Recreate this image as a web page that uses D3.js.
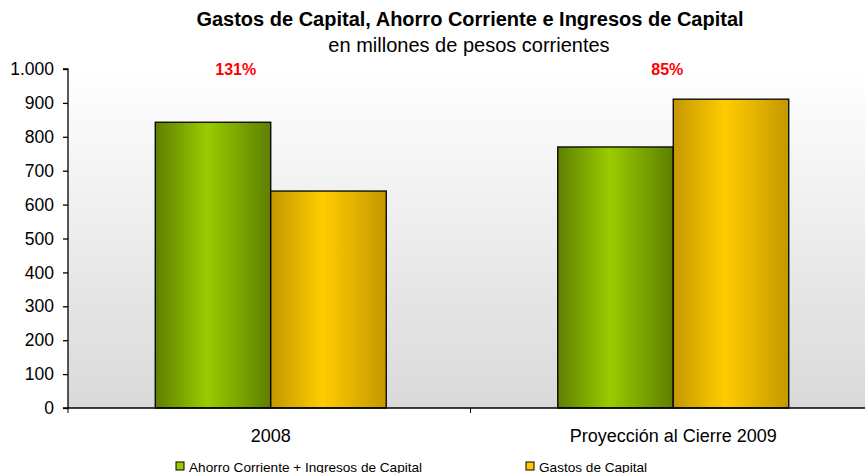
<!DOCTYPE html>
<html lang="es">
<head>
<meta charset="UTF-8">
<title>Gastos de Capital</title>
<style>
  body { margin: 0; background: #fff; font-family: 'Liberation Sans', Arial, sans-serif; }
  svg { display: block; }
</style>
<script src="https://d3js.org/d3.v7.min.js"></script>
</head>
<body>
<svg id="chart" width="865" height="473"></svg>
<script>
// data
var categories = ['2008', 'Proyección al Cierre 2009'];
var seriesNames = ['Ahorro Corriente + Ingresos de Capital', 'Gastos de Capital'];
var ahorroIngresos = [843, 770];
var gastosCapital = [640, 911];
var ratioLabels = ['131%', '85%'];
var yTicks = [0, 100, 200, 300, 400, 500, 600, 700, 800, 900, 1000];

var svg = d3.select('#chart');
var W = 865, H = 473;
var plotL = 68, plotR = 872, plotT = 69, plotB = 408;

var defs = svg.append('defs');
var bg = defs.append('linearGradient').attr('id', 'bg')
    .attr('x1', 0).attr('y1', 0).attr('x2', 0).attr('y2', 1);
bg.append('stop').attr('offset', '0%').attr('stop-color', '#ffffff');
bg.append('stop').attr('offset', '100%').attr('stop-color', '#d9d9d9');

function barGrad(id, dark, light) {
    var g = defs.append('linearGradient').attr('id', id)
        .attr('x1', 0).attr('y1', 0).attr('x2', 1).attr('y2', 0);
    g.append('stop').attr('offset', '0%').attr('stop-color', dark);
    g.append('stop').attr('offset', '45%').attr('stop-color', light);
    g.append('stop').attr('offset', '100%').attr('stop-color', dark);
}
barGrad('gGreen', '#5e7f00', '#99cc00');
barGrad('gYellow', '#c49800', '#ffcc00');
var fills = ['url(#gGreen)', 'url(#gYellow)'];
var legendFill = ['#99cc00', '#ffcc00'];

var x = d3.scaleBand().domain(categories).range([plotL + 1.5, plotR + 2.5]);
var xs = d3.scaleBand().domain([0, 1]).range([0, 231]);
var y = d3.scaleLinear().domain([0, 1000]).range([plotB, plotT]);

// plot background
svg.append('rect').attr('x', plotL).attr('y', plotT)
    .attr('width', W - plotL).attr('height', plotB - plotT)
    .attr('fill', 'url(#bg)');

// title
svg.append('text').attr('x', 470).attr('y', 26).attr('text-anchor', 'middle')
    .attr('font-size', 20).attr('font-weight', 'bold').text('Gastos de Capital, Ahorro Corriente e Ingresos de Capital');
svg.append('text').attr('x', 469).attr('y', 52).attr('text-anchor', 'middle')
    .attr('font-size', 20).text('en millones de pesos corrientes');

// bars
var rows = categories.map(function (c, i) {
    return { cat: c, vals: [ahorroIngresos[i], gastosCapital[i]] };
});
var groups = svg.selectAll('g.grp').data(rows).enter().append('g')
    .attr('transform', function (d) { return 'translate(' + (x(d.cat) + (x.bandwidth() - 231) / 2) + ',0)'; });
groups.selectAll('rect').data(function (d) { return d.vals; }).enter().append('rect')
    .attr('x', function (d, i) { return xs(i); })
    .attr('y', function (d) { return y(d); })
    .attr('width', xs.bandwidth())
    .attr('height', function (d) { return plotB - y(d); })
    .attr('fill', function (d, i) { return fills[i]; })
    .attr('stroke', '#000').attr('stroke-width', 1.3);

// y axis
var yAxis = svg.append('g').attr('transform', 'translate(' + plotL + ',0)')
    .call(d3.axisLeft(y).tickValues(yTicks).tickSize(5).tickPadding(9)
        .tickFormat(function (d) { return d3.format(',')(d).replace(',', '.'); }));
yAxis.selectAll('text').attr('font-size', 17.5).attr('fill', '#000')
    .attr('font-family', "'Liberation Sans', Arial, sans-serif");
yAxis.selectAll('line, path').attr('stroke', '#000').attr('stroke-width', 1.3);
yAxis.select('.domain').attr('d', 'M-5,' + plotT + 'H0V' + plotB + 'H-5');

// x axis
svg.append('line').attr('x1', plotL).attr('x2', W).attr('y1', plotB).attr('y2', plotB)
    .attr('stroke', '#000').attr('stroke-width', 1.3);
svg.append('line').attr('x1', x(categories[1]) - 1.5).attr('x2', x(categories[1]) - 1.5)
    .attr('y1', plotB).attr('y2', plotB + 5).attr('stroke', '#000');
svg.append('line').attr('x1', plotL).attr('x2', plotL)
    .attr('y1', plotB).attr('y2', plotB + 5).attr('stroke', '#000');
svg.selectAll('text.cat').data(categories).enter().append('text')
    .attr('x', function (d) { return x(d) + x.bandwidth() / 2; })
    .attr('y', 442).attr('text-anchor', 'middle').attr('font-size', 18)
    .text(function (d) { return d; });

// ratio labels
var ratioDx = [-35, -6];
svg.selectAll('text.ratio').data(ratioLabels).enter().append('text')
    .attr('x', function (d, i) { return x(categories[i]) + x.bandwidth() / 2 + ratioDx[i]; })
    .attr('y', 75).attr('text-anchor', 'middle')
    .attr('font-size', 16).attr('font-weight', 'bold').attr('fill', '#ff0000')
    .text(function (d) { return d; });

// legend
var legX = [176, 526];
var leg = svg.selectAll('g.leg').data(seriesNames).enter().append('g')
    .attr('transform', function (d, i) { return 'translate(' + legX[i] + ',462)'; });
leg.append('rect').attr('width', 8).attr('height', 8)
    .attr('fill', function (d, i) { return legendFill[i]; })
    .attr('stroke', '#000').attr('stroke-width', 1);
leg.append('text').attr('x', 13).attr('y', 9.5).attr('font-size', 13.6)
    .text(function (d) { return d; });
</script>
</body>
</html>
